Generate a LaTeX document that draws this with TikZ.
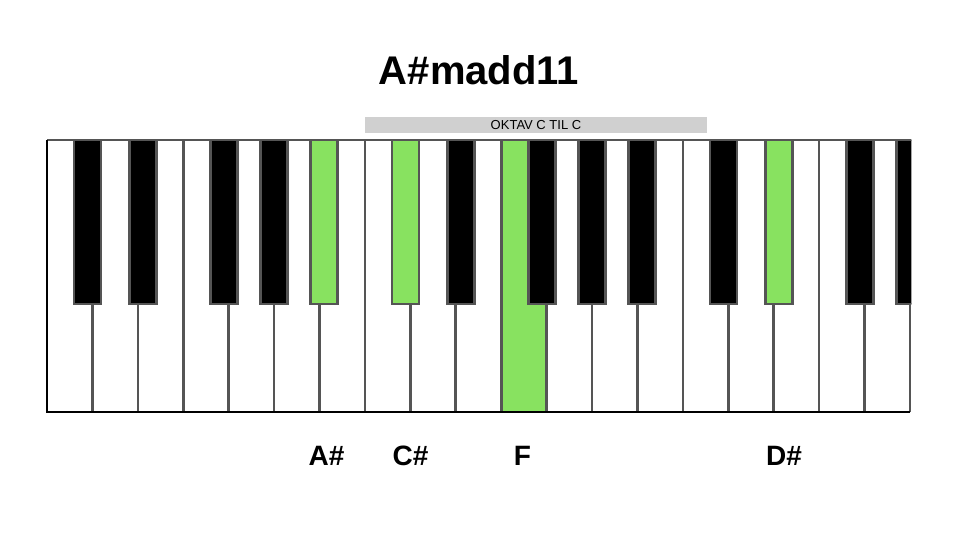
\documentclass[tikz,border=0pt]{standalone}
\usepackage{fontspec}
\setmainfont{Liberation Sans}
\definecolor{keygreen}{RGB}{136,226,96}
\definecolor{keyline}{RGB}{85,85,85}
\definecolor{barfill}{RGB}{208,208,208}
\tikzset{
  blackkey/.style={fill=black, draw=keyline, line width=2.6pt},
  greenkey/.style={fill=keygreen, draw=keyline, line width=2.6pt},
  keysep/.style={draw=keyline, line width=2.6pt},
  notelabel/.style={anchor=base, font=\bfseries\fontsize{28}{32}\selectfont},
}
\begin{document}
\begin{tikzpicture}[x=1pt,y=-1pt]
\useasboundingbox (0,0) rectangle (960,540);
\def\W{45.42}
% white keys
\fill[white] (47,140) rectangle (910,412);
\fill[keygreen] ({47+10*\W},140) rectangle ({47+11*\W},412);
\foreach \i in {1,...,18} \draw[keysep] ({47+\i*\W},140) -- ({47+\i*\W},412);
\draw[keysep] (47,140) -- (910,140) -- (910,412);
\draw[black, line width=2.6pt] (910,412) -- (47,412) -- (47,140);
% black keys
\begin{scope}
\clip (45,138.7) rectangle (911.3,413);
\foreach \o in {0,1,2}
  \foreach \k/\d in {1/-5, 2/5, 4/-4.5, 5/0, 6/4.5}
    \draw[blackkey] ({47+(7*\o+\k)*\W+\d-13.5},140) rectangle ({47+(7*\o+\k)*\W+\d+13.5},304);
% green black keys: A# (oct 0), C# (oct 1), D# (oct 2)
\foreach \k/\d in {6/4.5, 8/-5, 16/5}
  \draw[greenkey] ({47+\k*\W+\d-13.5},140) rectangle ({47+\k*\W+\d+13.5},304);
\end{scope}
% title and bar
\node[anchor=base, font=\bfseries\fontsize{40}{48}\selectfont] (title) at (479,85) {A\#madd11};
\node[fill=barfill, minimum width=342pt, minimum height=16pt, inner sep=0pt] (bar) at (536,125) {};
\node[anchor=base, font=\fontsize{13}{15}\selectfont] (bartext) at (536,129.5) {OKTAV C TIL C};
% note labels
\node[notelabel] (la) at (326.5,465) {A\#};
\node[notelabel] (lc) at (410.5,465) {C\#};
\node[notelabel] (lf) at (522.5,465) {F};
\node[notelabel] (ld) at (784,465) {D\#};
\end{tikzpicture}
\end{document}
